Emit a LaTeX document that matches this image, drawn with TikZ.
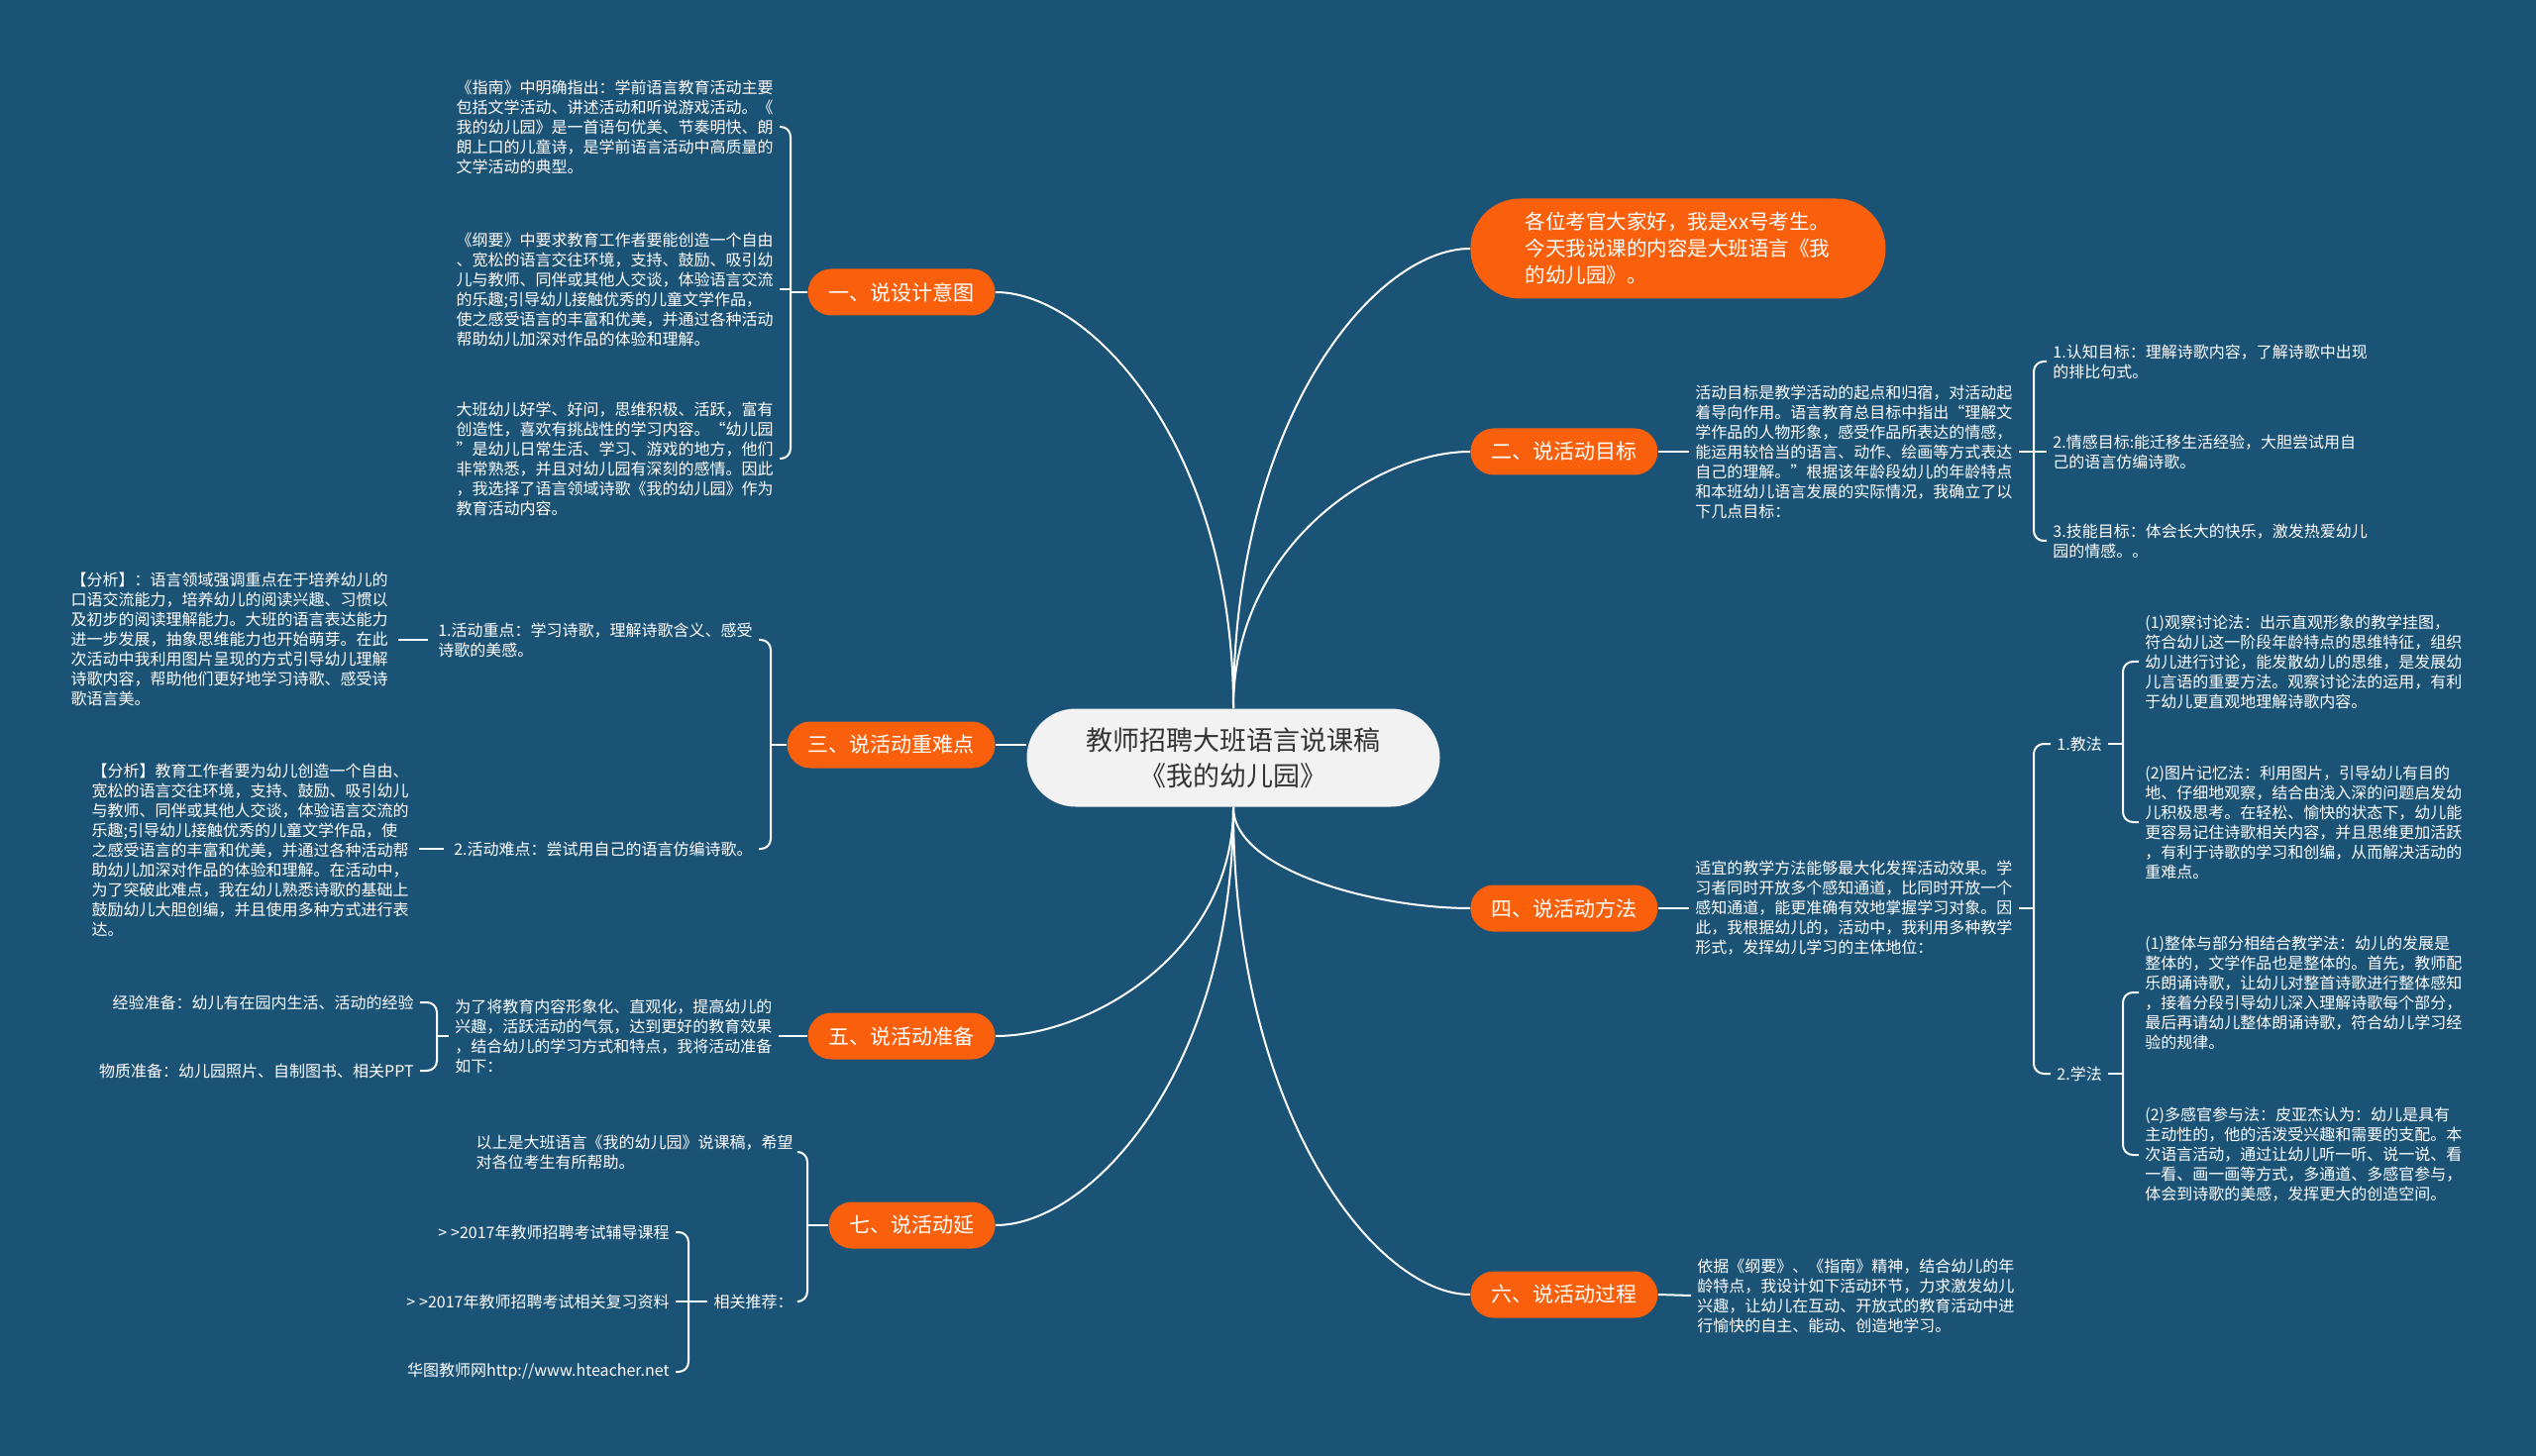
\documentclass[tikz,border=0pt]{standalone}
\usepackage{fontspec}
\setmainfont{Noto Sans CJK SC}
\definecolor{bgc}{RGB}{27,83,119}
\definecolor{orc}{RGB}{250,96,12}
\definecolor{cfill}{RGB}{242,242,242}
\definecolor{ctext}{RGB}{51,51,51}
\begin{document}
\begin{tikzpicture}[x=0.5pt,y=-0.5pt,
  txt/.style={align=left, inner xsep=3pt, inner ysep=1pt, text=white, font=\fontsize{8}{10}\selectfont},
  topic/.style={fill=orc, text=white, rounded corners=11.75pt, minimum height=23.5pt, inner xsep=10.5pt, inner ysep=0pt, font=\fontsize{10.5}{13}\selectfont},
  conn/.style={draw=white, line width=1pt},
  brace/.style={conn, rounded corners=5pt},
  tick/.style={conn, shorten <=2pt, shorten >=2pt}]
\fill[bgc] (0,0) rectangle (2560,1470);
\useasboundingbox (0,0) rectangle (2560,1470);

% central topic
\node[fill=cfill, text=ctext, rounded corners=24.75pt, minimum width=208.5pt, minimum height=49.5pt, inner sep=0pt, align=center, font=\fontsize{13.5}{18}\selectfont] (c) at (1245,765) {教师招聘大班语言说课稿\\《我的幼儿园》};

% greeting
\node[fill=orc, text=white, rounded corners=25pt, minimum width=209.5pt, minimum height=50.5pt, text width=154pt, inner xsep=25pt, inner ysep=0pt, align=left, font=\fontsize{10.25}{13.5}\selectfont, anchor=west] (g) at (1484,251) {各位考官大家好，我是xx号考生。\\今天我说课的内容是大班语言《我\\的幼儿园》。};

% main topics
\node[topic, anchor=east] (n1) at (1005,295) {一、说设计意图};
\node[topic, anchor=west] (n2) at (1484,456) {二、说活动目标};
\node[topic, anchor=east] (n3) at (1005,752) {三、说活动重难点};
\node[topic, anchor=west] (n4) at (1484,917) {四、说活动方法};
\node[topic, anchor=east] (n5) at (1005,1046) {五、说活动准备};
\node[topic, anchor=west] (n6) at (1484,1307) {六、说活动过程};
\node[topic, anchor=east] (n7) at (1005,1237) {七、说活动延};

% curves from centre
\draw[conn] (c.north) .. controls +(0,-265) and +(96,0) .. (n1.east);
\draw[conn] (c.north) .. controls +(0,-293) and +(-96,0) .. (g.west);
\draw[conn] (c.north) .. controls +(0,-164) and +(-95,0) .. (n2.west);
\draw[conn] (n3.east) -- (n3.east -| c.west);
\draw[conn] (c.south) .. controls +(0,64) and +(-95,0) .. (n4.west);
\draw[conn] (c.south) .. controls +(0,146) and +(96,0) .. (n5.east);
\draw[conn] (c.south) .. controls +(0,310) and +(-95,0) .. (n6.west);
\draw[conn] (c.south) .. controls +(0,266) and +(96,0) .. (n7.east);

% ---- 一 ----
\node[txt, anchor=east] (a1) at (787,128) {《指南》中明确指出：学前语言教育活动主要\\包括文学活动、讲述活动和听说游戏活动。《\\我的幼儿园》是一首语句优美、节奏明快、朗\\朗上口的儿童诗，是学前语言活动中高质量的\\文学活动的典型。};
\node[txt, anchor=east] (a2) at (787,292) {《纲要》中要求教育工作者要能创造一个自由\\、宽松的语言交往环境，支持、鼓励、吸引幼\\儿与教师、同伴或其他人交谈，体验语言交流\\的乐趣;引导幼儿接触优秀的儿童文学作品，\\使之感受语言的丰富和优美，并通过各种活动\\帮助幼儿加深对作品的体验和理解。};
\node[txt, anchor=east] (a3) at (787,463) {大班幼儿好学、好问，思维积极、活跃，富有\\创造性，喜欢有挑战性的学习内容。“幼儿园\\”是幼儿日常生活、学习、游戏的地方，他们\\非常熟悉，并且对幼儿园有深刻的感情。因此\\，我选择了语言领域诗歌《我的幼儿园》作为\\教育活动内容。};
\coordinate (s1) at (798,295);
\draw[conn] (n1.west) -- (s1);
\draw[brace] (s1) |- (a1.east);
\draw[conn] (a2.east) -- (a2.east -| s1);
\draw[brace] (s1) |- (a3.east);

% ---- 三 ----
\node[txt, anchor=east] (b1) at (766,646) {1.活动重点：学习诗歌，理解诗歌含义、感受\\诗歌的美感。};
\node[txt, anchor=east] (b2) at (766,857) {2.活动难点：尝试用自己的语言仿编诗歌。};
\coordinate (s3) at (778,752);
\draw[conn] (n3.west) -- (s3);
\draw[brace] (s3) |- (b1.east);
\draw[brace] (s3) |- (b2.east);
\node[txt, anchor=east] (ba1) at (398,645) {【分析】：语言领域强调重点在于培养幼儿的\\口语交流能力，培养幼儿的阅读兴趣、习惯以\\及初步的阅读理解能力。大班的语言表达能力\\进一步发展，抽象思维能力也开始萌芽。在此\\次活动中我利用图片呈现的方式引导幼儿理解\\诗歌内容，帮助他们更好地学习诗歌、感受诗\\歌语言美。};
\node[txt, anchor=east] (ba2) at (419,858) {【分析】教育工作者要为幼儿创造一个自由、\\宽松的语言交往环境，支持、鼓励、吸引幼儿\\与教师、同伴或其他人交谈，体验语言交流的\\乐趣;引导幼儿接触优秀的儿童文学作品，使\\之感受语言的丰富和优美，并通过各种活动帮\\助幼儿加深对作品的体验和理解。在活动中，\\为了突破此难点，我在幼儿熟悉诗歌的基础上\\鼓励幼儿大胆创编，并且使用多种方式进行表\\达。};
\draw[tick] (b1.west) -- (b1.west -| ba1.east);
\draw[tick] (b2.west) -- (b2.west -| ba2.east);

% ---- 五 ----
\node[txt, anchor=west] (c1) at (453,1046) {为了将教育内容形象化、直观化，提高幼儿的\\兴趣，活跃活动的气氛，达到更好的教育效果\\，结合幼儿的学习方式和特点，我将活动准备\\如下：};
\draw[conn] (c1.east) -- (n5.west);
\node[txt, anchor=east] (c11) at (424,1012) {经验准备：幼儿有在园内生活、活动的经验};
\node[txt, anchor=east] (c12) at (424,1081) {物质准备：幼儿园照片、自制图书、相关PPT};
\coordinate (s5) at (441,1046);
\draw[conn] (c1.west) -- (s5);
\draw[brace] (s5) |- (c11.east);
\draw[brace] (s5) |- (c12.east);

% ---- 七 ----
\node[txt, anchor=east] (d1) at (807,1163) {以上是大班语言《我的幼儿园》说课稿，希望\\对各位考生有所帮助。};
\node[txt, anchor=east] (d2) at (807,1314) {相关推荐：};
\coordinate (s7) at (815,1237);
\draw[conn] (n7.west) -- (s7);
\draw[brace] (s7) |- (d1.east);
\draw[brace] (s7) |- (d2.east);
\node[txt, anchor=east] (d21) at (682,1244) {>\kern0.25em>2017年教师招聘考试辅导课程};
\node[txt, anchor=east] (d22) at (682,1314) {>\kern0.25em>2017年教师招聘考试相关复习资料};
\node[txt, anchor=east] (d23) at (682,1385) {华图教师网http://www.hteacher.net};
\coordinate (s72) at (695,1314);
\draw[conn] (d2.west) -- (s72);
\draw[brace] (s72) |- (d21.east);
\draw[conn] (d22.east) -- (s72);
\draw[brace] (s72) |- (d23.east);

% ---- 二 ----
\node[txt, anchor=west] (e1) at (1705,456) {活动目标是教学活动的起点和归宿，对活动起\\着导向作用。语言教育总目标中指出“理解文\\学作品的人物形象，感受作品所表达的情感，\\能运用较恰当的语言、动作、绘画等方式表达\\自己的理解。”根据该年龄段幼儿的年龄特点\\和本班幼儿语言发展的实际情况，我确立了以\\下几点目标：};
\draw[conn] (n2.east) -- (e1.west);
\node[txt, anchor=west] (g1) at (2066,365) {1.认知目标：理解诗歌内容，了解诗歌中出现\\的排比句式。};
\node[txt, anchor=west] (g2) at (2066,456) {2.情感目标:能迁移生活经验，大胆尝试用自\\己的语言仿编诗歌。};
\node[txt, anchor=west] (g3) at (2066,546) {3.技能目标：体会长大的快乐，激发热爱幼儿\\园的情感。。};
\coordinate (s2) at (2053,456);
\draw[conn] (e1.east) -- (s2);
\draw[brace] (s2) |- (g1.west);
\draw[conn] (s2) -- (g2.west);
\draw[brace] (s2) |- (g3.west);

% ---- 四 ----
\node[txt, anchor=west] (f1) at (1705,917) {适宜的教学方法能够最大化发挥活动效果。学\\习者同时开放多个感知通道，比同时开放一个\\感知通道，能更准确有效地掌握学习对象。因\\此，我根据幼儿的，活动中，我利用多种教学\\形式，发挥幼儿学习的主体地位：};
\draw[conn] (n4.east) -- (f1.west);
\node[txt, anchor=west] (f2) at (2070,751) {1.教法};
\node[txt, anchor=west] (f3) at (2070,1084) {2.学法};
\coordinate (s4) at (2053,917);
\draw[conn] (f1.east) -- (s4);
\draw[brace] (s4) |- (f2.west);
\draw[brace] (s4) |- (f3.west);
\node[txt, anchor=west] (h1) at (2159,668) {(1)观察讨论法：出示直观形象的教学挂图，\\符合幼儿这一阶段年龄特点的思维特征，组织\\幼儿进行讨论，能发散幼儿的思维，是发展幼\\儿言语的重要方法。观察讨论法的运用，有利\\于幼儿更直观地理解诗歌内容。};
\node[txt, anchor=west] (h2) at (2159,830) {(2)图片记忆法：利用图片，引导幼儿有目的\\地、仔细地观察，结合由浅入深的问题启发幼\\儿积极思考。在轻松、愉快的状态下，幼儿能\\更容易记住诗歌相关内容，并且思维更加活跃\\，有利于诗歌的学习和创编，从而解决活动的\\重难点。};
\node[txt, anchor=west] (h3) at (2159,1002) {(1)整体与部分相结合教学法：幼儿的发展是\\整体的，文学作品也是整体的。首先，教师配\\乐朗诵诗歌，让幼儿对整首诗歌进行整体感知\\，接着分段引导幼儿深入理解诗歌每个部分，\\最后再请幼儿整体朗诵诗歌，符合幼儿学习经\\验的规律。};
\node[txt, anchor=west] (h4) at (2159,1166) {(2)多感官参与法：皮亚杰认为：幼儿是具有\\主动性的，他的活泼受兴趣和需要的支配。本\\次语言活动，通过让幼儿听一听、说一说、看\\一看、画一画等方式，多通道、多感官参与，\\体会到诗歌的美感，发挥更大的创造空间。};
\coordinate (s41) at (2143,751);
\coordinate (s42) at (2143,1084);
\draw[conn] (f2.east) -- (s41);
\draw[brace] (s41) |- (h1.west);
\draw[brace] (s41) |- (h2.west);
\draw[conn] (f3.east) -- (s42);
\draw[brace] (s42) |- (h3.west);
\draw[brace] (s42) |- (h4.west);

% ---- 六 ----
\node[txt, anchor=west] (i1) at (1707,1308) {依据《纲要》、《指南》精神，结合幼儿的年\\龄特点，我设计如下活动环节，力求激发幼儿\\兴趣，让幼儿在互动、开放式的教育活动中进\\行愉快的自主、能动、创造地学习。};
\draw[conn] (n6.east) -- (i1.west);
\end{tikzpicture}
\end{document}
